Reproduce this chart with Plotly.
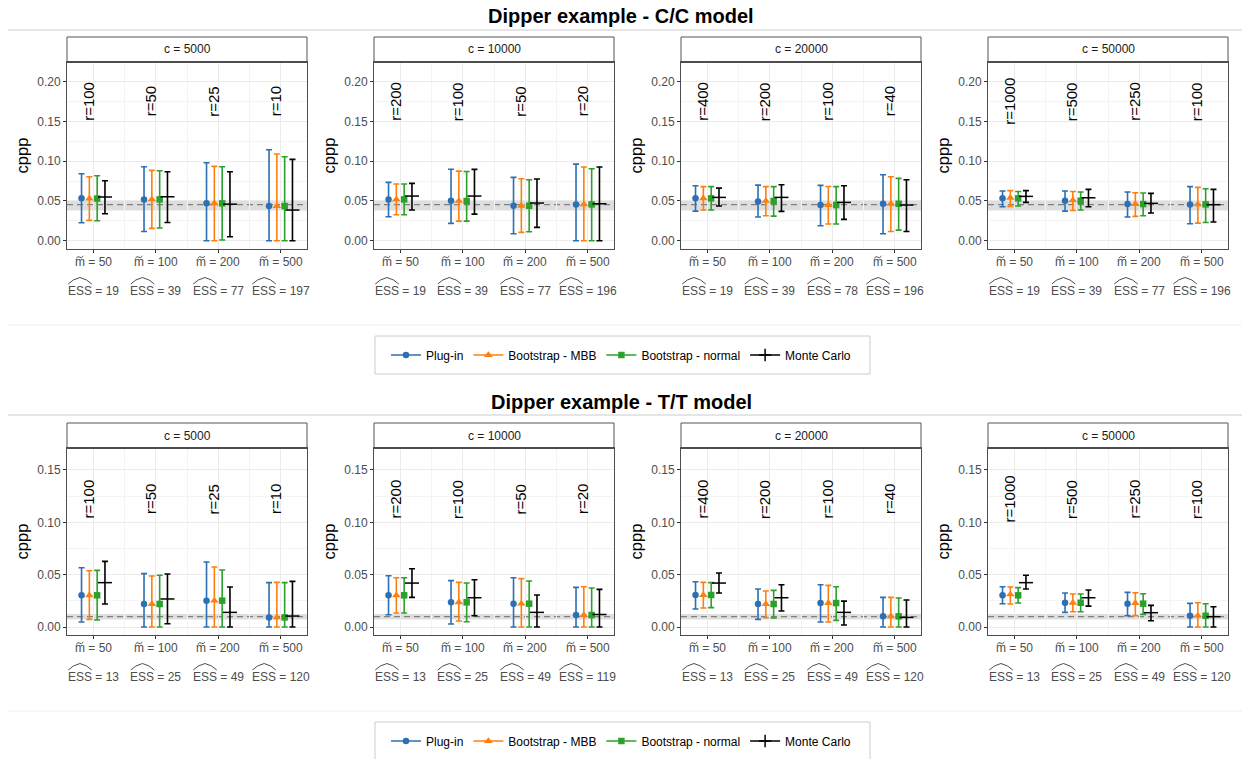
import plotly.graph_objects as go

# ---------------- data ----------------
c_values = [5000, 10000, 20000, 50000]
m_values = [50, 100, 200, 500]
methods = ["Plug-in", "Bootstrap - MBB", "Bootstrap - normal", "Monte Carlo"]
r_labels = [[100, 50, 25, 10], [200, 100, 50, 20], [400, 200, 100, 40], [1000, 500, 250, 100]]
cc_ess = [[19, 39, 77, 197], [19, 39, 77, 196], [19, 39, 78, 196], [19, 39, 77, 196]]
tt_ess = [[13, 25, 49, 120], [13, 25, 49, 119], [13, 25, 49, 120], [13, 25, 49, 120]]

cc_ref = [0.0453, 0.038, 0.051]   # line, band low, band high
tt_ref = [0.0100, 0.0073, 0.0125]

# C/C model  (rows: c values, cols: m values)
cc_plugin_est = [[0.0533, 0.0520, 0.0470, 0.0436], [0.0520, 0.0503, 0.0440, 0.0457],
                 [0.0533, 0.0495, 0.0449, 0.0465], [0.0533, 0.0503, 0.0461, 0.0457]]
cc_plugin_lo = [[0.0226, 0.0117, 0.0, 0.0], [0.0302, 0.0218, 0.0088, 0.0],
                [0.0373, 0.0298, 0.0189, 0.0088], [0.0428, 0.0373, 0.0298, 0.0214]]
cc_plugin_hi = [[0.0843, 0.0930, 0.0980, 0.1145], [0.0734, 0.0900, 0.0797, 0.0964],
                [0.0692, 0.0700, 0.0696, 0.0830], [0.0625, 0.0625, 0.0612, 0.0680]]
cc_mbb_est = [[0.0530, 0.0520, 0.0470, 0.0436], [0.0520, 0.0500, 0.0440, 0.0457],
              [0.0533, 0.0500, 0.0449, 0.0465], [0.0540, 0.0510, 0.0461, 0.0457]]
cc_mbb_lo = [[0.0256, 0.0155, 0.0, 0.0], [0.0327, 0.0247, 0.0105, 0.0],
             [0.0386, 0.0314, 0.0210, 0.0117], [0.0432, 0.0380, 0.0306, 0.0222]]
cc_mbb_hi = [[0.0805, 0.0885, 0.0935, 0.1090], [0.0713, 0.0876, 0.0780, 0.0927],
             [0.0680, 0.0680, 0.0683, 0.0805], [0.0630, 0.0620, 0.0604, 0.0671]]
cc_norm_est = [[0.0530, 0.0520, 0.0470, 0.0436], [0.0520, 0.0500, 0.0440, 0.0457],
               [0.0533, 0.0500, 0.0449, 0.0465], [0.0533, 0.0503, 0.0461, 0.0457]]
cc_norm_lo = [[0.0252, 0.0160, 0.0010, 0.0], [0.0327, 0.0247, 0.0113, 0.0],
              [0.0386, 0.0310, 0.0210, 0.0134], [0.0436, 0.0386, 0.0314, 0.0230]]
cc_norm_hi = [[0.0818, 0.0880, 0.0930, 0.1057], [0.0713, 0.0870, 0.0767, 0.0906],
              [0.0680, 0.0680, 0.0680, 0.0784], [0.0620, 0.0612, 0.0600, 0.0654]]
cc_mc_est = [[0.0550, 0.0553, 0.0460, 0.0386], [0.0562, 0.0562, 0.0474, 0.0465],
             [0.0545, 0.0545, 0.0482, 0.0449], [0.0558, 0.0540, 0.0470, 0.0453]]
cc_mc_lo = [[0.0340, 0.0230, 0.0050, 0.0], [0.0386, 0.0335, 0.0168, 0.0],
            [0.0436, 0.0369, 0.0268, 0.0117], [0.0482, 0.0428, 0.0348, 0.0235]]
cc_mc_hi = [[0.0755, 0.0868, 0.0868, 0.1023], [0.0721, 0.0897, 0.0776, 0.0927],
            [0.0662, 0.0704, 0.0692, 0.0767], [0.0630, 0.0646, 0.0595, 0.0646]]

# T/T model
tt_plugin_est = [[0.0303, 0.0220, 0.0252, 0.0092], [0.0303, 0.0236, 0.0223, 0.0115],
                 [0.0306, 0.0220, 0.0229, 0.0102], [0.0303, 0.0232, 0.0223, 0.0108]]
tt_plugin_lo = [[0.0048, 0.0, 0.0, 0.0], [0.0118, 0.0029, 0.0, 0.0],
                [0.0172, 0.0073, 0.0048, 0.0], [0.0223, 0.0140, 0.0108, 0.0]]
tt_plugin_hi = [[0.0567, 0.0510, 0.0621, 0.0424], [0.0490, 0.0443, 0.0471, 0.0379],
                [0.0433, 0.0363, 0.0404, 0.0283], [0.0385, 0.0325, 0.0331, 0.0226]]
tt_mbb_est = [[0.0303, 0.0220, 0.0252, 0.0092], [0.0303, 0.0236, 0.0223, 0.0115],
              [0.0306, 0.0220, 0.0229, 0.0102], [0.0312, 0.0232, 0.0229, 0.0108]]
tt_mbb_lo = [[0.0073, 0.0, 0.0, 0.0], [0.0134, 0.0057, 0.0, 0.0],
             [0.0182, 0.0089, 0.0048, 0.0], [0.0220, 0.0146, 0.0108, 0.0]]
tt_mbb_hi = [[0.0538, 0.0487, 0.0573, 0.0427], [0.0471, 0.0427, 0.0462, 0.0385],
             [0.0427, 0.0344, 0.0398, 0.0283], [0.0382, 0.0315, 0.0328, 0.0232]]
tt_norm_est = [[0.0303, 0.0220, 0.0252, 0.0092], [0.0303, 0.0236, 0.0223, 0.0115],
               [0.0306, 0.0220, 0.0229, 0.0102], [0.0303, 0.0232, 0.0223, 0.0108]]
tt_norm_lo = [[0.0067, 0.0, 0.0, 0.0], [0.0134, 0.0051, 0.0, 0.0],
              [0.0185, 0.0086, 0.0064, 0.0], [0.0229, 0.0146, 0.0121, 0.0]]
tt_norm_hi = [[0.0541, 0.0494, 0.0545, 0.0424], [0.0471, 0.0420, 0.0440, 0.0373],
              [0.0424, 0.0350, 0.0385, 0.0277], [0.0376, 0.0315, 0.0318, 0.0223]]
tt_mc_est = [[0.0424, 0.0268, 0.0140, 0.0105], [0.0420, 0.0280, 0.0140, 0.0120],
             [0.0420, 0.0280, 0.0140, 0.0092], [0.0424, 0.0280, 0.0137, 0.0099]]
tt_mc_lo = [[0.0220, 0.0032, 0.0, 0.0], [0.0283, 0.0108, 0.0, 0.0],
            [0.0325, 0.0153, 0.0019, 0.0], [0.0363, 0.0200, 0.0060, 0.0]]
tt_mc_hi = [[0.0627, 0.0506, 0.0382, 0.0436], [0.0557, 0.0452, 0.0306, 0.0360],
            [0.0516, 0.0404, 0.0248, 0.0258], [0.0494, 0.0354, 0.0207, 0.0194]]

# ---------------- styling ----------------
W, H = 1242, 759
FONT = "Liberation Sans, Arial, Helvetica, sans-serif"
colors = ["#2C6FB3", "#FF7F0E", "#2CA02C", "#000000"]
symbols = ["circle", "triangle-up", "square", "line-ew"]
msizes = [6.5, 7.5, 6.5, 10]
dodge = [-0.1875, -0.0625, 0.0625, 0.1875]
TICKFONT = dict(size=12, color="#4d4d4d", family=FONT)
GREY_TXT = "#4d4d4d"

panel_left = [67, 374, 681, 988]
panel_w = 240
sections = [
    dict(name="C/C", title_y=16, line_y=30, strip=(37, 62), plot=(62, 249),
         yrange=[-0.0104, 0.2248], yt=[0, 0.05, 0.10, 0.15, 0.20],
         ym=[0.025, 0.075, 0.125, 0.175, 0.225], rlab_y=0.175, m_y=262, ess_y=291,
         sep_y=325, legend_y=355, ref=cc_ref, ess=cc_ess,
         data=[(cc_plugin_est, cc_plugin_lo, cc_plugin_hi), (cc_mbb_est, cc_mbb_lo, cc_mbb_hi),
               (cc_norm_est, cc_norm_lo, cc_norm_hi), (cc_mc_est, cc_mc_lo, cc_mc_hi)]),
    dict(name="T/T", title_y=402, line_y=415, strip=(423, 448), plot=(448, 635),
         yrange=[-0.0076, 0.171], yt=[0, 0.05, 0.10, 0.15],
         ym=[0.025, 0.075, 0.125, 0.175], rlab_y=0.122, m_y=648, ess_y=677,
         sep_y=711, legend_y=741, ref=tt_ref, ess=tt_ess,
         data=[(tt_plugin_est, tt_plugin_lo, tt_plugin_hi), (tt_mbb_est, tt_mbb_lo, tt_mbb_hi),
               (tt_norm_est, tt_norm_lo, tt_norm_hi), (tt_mc_est, tt_mc_lo, tt_mc_hi)]),
]


def py(px):
    return 1 - px / H


def pxx(px):
    return px / W


fig = go.Figure()
shapes, annotations = [], []
layout = {}

for s, sec in enumerate(sections):
    annotations.append(dict(text=f"<b>Dipper example - {sec['name']} model</b>", x=0.5, y=py(sec["title_y"]),
                            xref="paper", yref="paper", xanchor="center", yanchor="middle", showarrow=False,
                            font=dict(size=20, color="black", family=FONT)))
    shapes.append(dict(type="line", xref="paper", yref="paper", x0=pxx(8), x1=1,
                       y0=py(sec["line_y"]), y1=py(sec["line_y"]), line=dict(color="#cccccc", width=1)))
    shapes.append(dict(type="line", xref="paper", yref="paper", x0=pxx(8), x1=1,
                       y0=py(sec["sep_y"]), y1=py(sec["sep_y"]), line=dict(color="#f0f0f0", width=1)))
    for j, c in enumerate(c_values):
        k = s * 4 + j + 1
        xa = "x" if k == 1 else f"x{k}"
        ya = "y" if k == 1 else f"y{k}"
        xl = panel_left[j]
        xdom = [pxx(xl), pxx(xl + panel_w)]
        ydom = [py(sec["plot"][1]), py(sec["plot"][0])]
        layout["xaxis" if k == 1 else f"xaxis{k}"] = dict(
            domain=xdom, anchor=ya, range=[0.58, 4.42],
            tickvals=[1, 2, 3, 4], showticklabels=False,
            ticks="outside", ticklen=3, tickcolor="#333333", tickwidth=1,
            showgrid=True, gridcolor="#ebebeb", gridwidth=1,
            minor=dict(tickvals=[1.5, 2.5, 3.5], showgrid=True, gridcolor="#f4f4f4", gridwidth=0.6),
            showline=True, mirror=True, linecolor="#4d4d4d", linewidth=1, zeroline=False)
        layout["yaxis" if k == 1 else f"yaxis{k}"] = dict(
            domain=ydom, anchor=xa, range=sec["yrange"],
            tickvals=sec["yt"], ticktext=[f"{v:.2f}" for v in sec["yt"]],
            ticks="outside", ticklen=3, tickcolor="#333333", tickwidth=1, tickfont=TICKFONT,
            showgrid=True, gridcolor="#ebebeb", gridwidth=1,
            minor=dict(tickvals=sec["ym"], showgrid=True, gridcolor="#f4f4f4", gridwidth=0.6),
            showline=True, mirror=True, linecolor="#4d4d4d", linewidth=1, zeroline=False,
            title=dict(text="cppp", font=dict(size=16.5, color="black", family=FONT), standoff=4))

        ref = sec["ref"]
        shapes.append(dict(type="rect", xref=f"{xa} domain", yref=ya, x0=0, x1=1, y0=ref[1], y1=ref[2],
                           fillcolor="rgba(0,0,0,0.13)", line=dict(width=0), layer="below"))
        shapes.append(dict(type="line", xref=f"{xa} domain", yref=ya, x0=0, x1=1, y0=ref[0], y1=ref[0],
                           line=dict(color="#808080", width=1.2, dash="6px,4px"), layer="below"))

        st = sec["strip"]
        shapes.append(dict(type="rect", xref="paper", yref="paper", x0=xdom[0], x1=xdom[1],
                           y0=py(st[1]), y1=py(st[0]), fillcolor="white", line=dict(color="#555555", width=1)))
        shapes.append(dict(type="line", xref="paper", yref="paper", x0=xdom[0], x1=xdom[1],
                           y0=py(st[1]), y1=py(st[1]), line=dict(color="#4d4d4d", width=2)))
        annotations.append(dict(text=f"c = {c}", x=(xdom[0] + xdom[1]) / 2, y=py((st[0] + st[1]) / 2),
                                xref="paper", yref="paper", xanchor="center", yanchor="middle", showarrow=False,
                                font=dict(size=12, color="#1a1a1a", family=FONT)))

        for i, meth in enumerate(methods):
            est, lo, hi = sec["data"][i]
            e, l, h = est[j], lo[j], hi[j]
            xs = [q + 1 + dodge[i] for q in range(len(m_values))]
            marker = dict(symbol=symbols[i], size=msizes[i], color=colors[i])
            if i == 3:
                marker["line"] = dict(color=colors[i], width=1.5)
            fig.add_trace(go.Scatter(
                x=xs, y=e, mode="markers", marker=marker, xaxis=xa, yaxis=ya, showlegend=False,
                error_y=dict(type="data", symmetric=False,
                             array=[hh - ee for hh, ee in zip(h, e)],
                             arrayminus=[ee - ll for ee, ll in zip(e, l)],
                             color=colors[i], thickness=1.6, width=3),
                name=meth))

        for q, m in enumerate(m_values):
            annotations.append(dict(text=f"r={r_labels[j][q]}", x=q + 1, y=sec["rlab_y"], xref=xa, yref=ya,
                                    textangle=-90, showarrow=False, xshift=-5, xanchor="center",
                                    yanchor="middle", font=dict(size=15, color="black", family=FONT)))
            # m-tilde label
            annotations.append(dict(text=f"m = {m}", x=q + 1, y=py(sec["m_y"]), xref=xa, yref="paper",
                                    xanchor="center", yanchor="middle", showarrow=False, font=TICKFONT))
            wm = 23.7 + 6.67 * len(str(m))
            a = -wm / 2 + 1.4
            tpath = (f"M {a:.1f},3.6 Q {a + 1.8:.1f},6.4 {a + 3.6:.1f},4.8 "
                     f"Q {a + 5.4:.1f},3.2 {a + 7.2:.1f},6.0")
            shapes.append(dict(type="path", xref=xa, yref="paper", xsizemode="pixel", ysizemode="pixel",
                               xanchor=q + 1, yanchor=py(sec["m_y"]), path=tpath,
                               line=dict(color=GREY_TXT, width=1)))
            # ESS-hat label
            ess = sec["ess"][j][q]
            annotations.append(dict(text=f"ESS = {ess}", x=q + 1, y=py(sec["ess_y"]), xref=xa, yref="paper",
                                    xanchor="center", yanchor="middle", showarrow=False, font=TICKFONT))
            w = 37.7 + 6.67 * len(str(ess))
            x0 = -w / 2 + 0.5
            x1 = x0 + 23.5
            xm = (x0 + x1) / 2
            path = (f"M {x0:.1f},7 L {x0 + 0.22 * (x1 - x0):.1f},11 L {xm:.1f},13.5 "
                    f"L {x1 - 0.22 * (x1 - x0):.1f},11 L {x1:.1f},7")
            shapes.append(dict(type="path", xref=xa, yref="paper", xsizemode="pixel", ysizemode="pixel",
                               xanchor=q + 1, yanchor=py(sec["ess_y"]), path=path,
                               line=dict(color=GREY_TXT, width=1)))

    # legend box + entries
    ly = sec["legend_y"]
    shapes.append(dict(type="rect", xref="paper", yref="paper", x0=pxx(375), x1=pxx(870),
                       y0=py(ly + 19), y1=py(ly - 19), fillcolor="white",
                       line=dict(color="#cccccc", width=1), layer="below"))
    leg = "legend" if s == 0 else "legend2"
    for i, meth in enumerate(methods):
        sym = "cross-thin" if i == 3 else symbols[i]
        marker = dict(symbol=sym, size=msizes[i] if i < 3 else 9, color=colors[i])
        if i == 3:
            marker["line"] = dict(color=colors[i], width=1.5)
        fig.add_trace(go.Scatter(x=[None], y=[None], mode="lines+markers", name=meth,
                                 line=dict(color=colors[i], width=1.6), marker=marker,
                                 legend=leg, showlegend=True, xaxis="x", yaxis="y"))
    layout[leg] = dict(orientation="h", x=0.5, xanchor="center", y=py(ly), yanchor="middle",
                       borderwidth=0, bgcolor="rgba(0,0,0,0)",
                       font=dict(size=12, color="black", family=FONT), itemwidth=30)

fig.update_layout(width=W, height=H, autosize=False, margin=dict(l=0, r=0, t=0, b=0),
                  paper_bgcolor="white", plot_bgcolor="white", font=dict(family=FONT),
                  shapes=shapes, annotations=annotations, **layout)

fig.write_html("out.html", config={"displayModeBar": False},
               post_script="document.body.style.margin='0';document.body.style.overflow='hidden';")
